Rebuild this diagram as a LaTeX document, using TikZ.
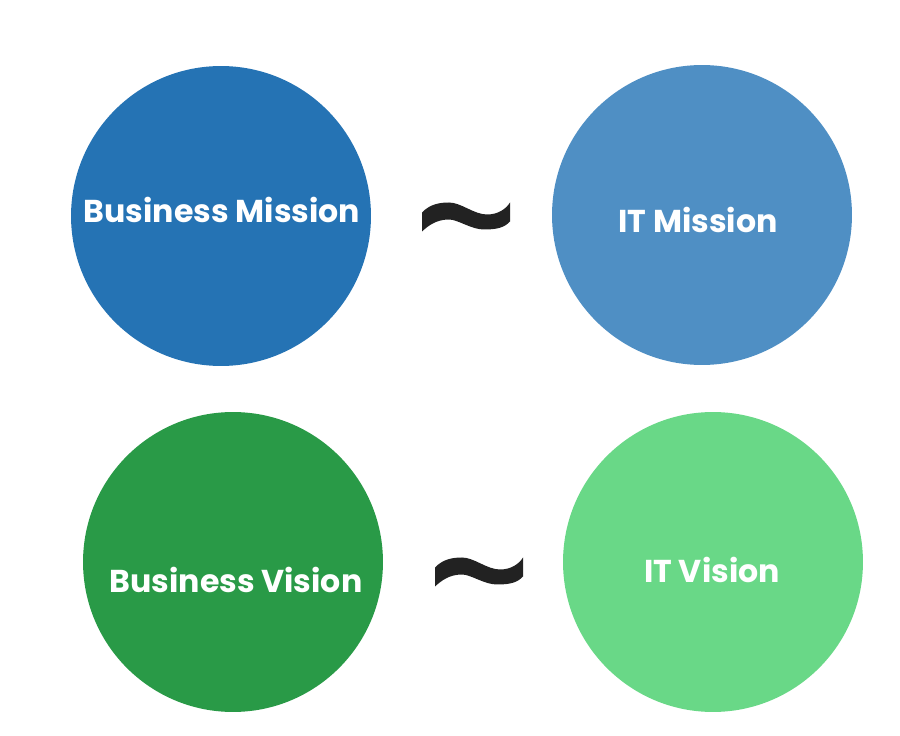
\documentclass[tikz,border=0pt]{standalone}
\usepackage{fontspec}
\setmainfont{Poppins}
\usetikzlibrary{positioning}
\definecolor{missionblue}{HTML}{2573B4}
\definecolor{itblue}{HTML}{4F8FC4}
\definecolor{visiongreen}{HTML}{299A47}
\definecolor{itgreen}{HTML}{69D887}
\definecolor{tildegray}{HTML}{222222}
\tikzset{
	x=0.02cm, y=-0.02cm,
	disc/.style = {circle, minimum size=6cm, inner sep=0pt},
	caption/.style = {inner sep=0pt, text=white, font=\fontsize{18}{22}\selectfont\bfseries},
	tildemark/.pic = {
		\fill[tildegray] (-44,-4.5) .. controls (-36,-13) and (-26,-14.5) .. (-17,-14.5)
			.. controls (-5,-14.5) and (8,-2.5) .. (21,-2.5)
			.. controls (32,-2.5) and (40,-8) .. (44,-14.5) -- (44,4.5)
			.. controls (38,11) and (30,12.5) .. (18,12.5)
			.. controls (5,12.5) and (-8,2.5) .. (-17,2.5)
			.. controls (-30,2.5) and (-38,9) .. (-44,14.5) -- cycle;
	}
}

\begin{document}
\begin{tikzpicture}
	\useasboundingbox (0,0) rectangle (900,736);
	\node[disc, fill=missionblue] (bm) at (221,216) {};
	\node[disc, fill=itblue] (im) at (702,215) {};
	\node[disc, fill=visiongreen] (bv) at (233,562) {};
	\node[disc, fill=itgreen] (iv) at (713,562) {};
	\node[caption] (bmtext) at (222,210) {Business Mission};
	\node[caption] (imtext) at (698,220) {IT Mission};
	\node[caption] (bvtext) at (236,580) {Business Vision};
	\node[caption] (ivtext) at (712,570) {IT Vision};
	\pic (missiontilde) at (466,217) {tildemark};
	\pic (visiontilde) at (479,572) {tildemark};
\end{tikzpicture}
\end{document}
